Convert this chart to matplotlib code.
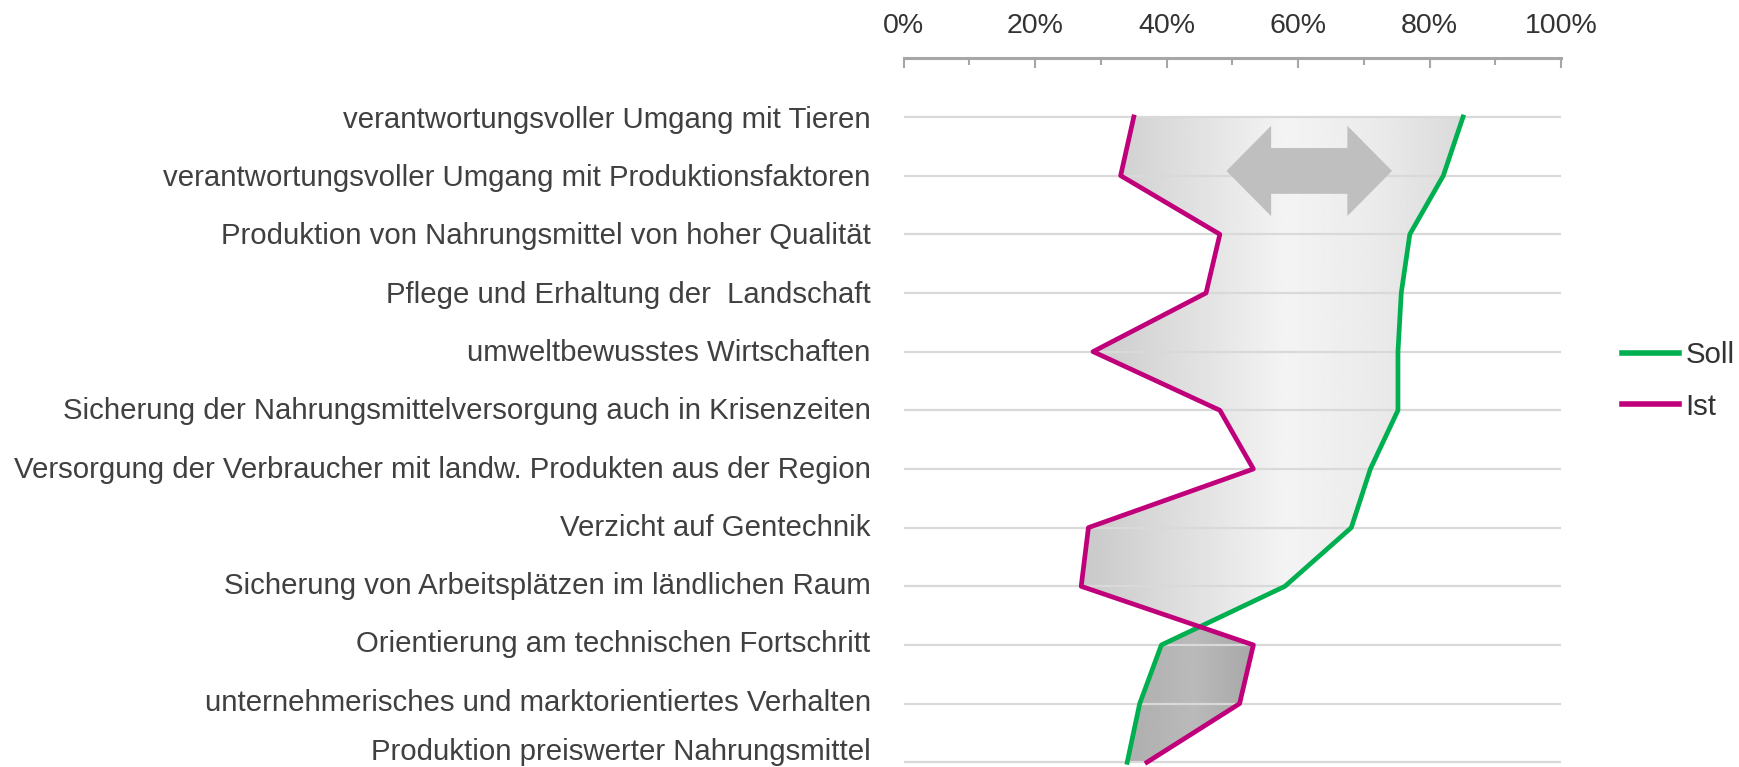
import numpy as np
import matplotlib
matplotlib.use('Agg')
import matplotlib.pyplot as plt
import matplotlib.transforms as mtransforms
from matplotlib.patches import Polygon
from matplotlib.path import Path
from matplotlib.lines import Line2D

plt.rcParams['font.family'] = ['Liberation Sans', 'DejaVu Sans']

################ Data ################

categories = [
    "verantwortungsvoller Umgang mit Tieren",
    "verantwortungsvoller Umgang mit Produktionsfaktoren",
    "Produktion von Nahrungsmittel von hoher Qualität",
    "Pflege und Erhaltung der  Landschaft",
    "umweltbewusstes Wirtschaften",
    "Sicherung der Nahrungsmittelversorgung auch in Krisenzeiten",
    "Versorgung der Verbraucher mit landw. Produkten aus der Region",
    "Verzicht auf Gentechnik",
    "Sicherung von Arbeitsplätzen im ländlichen Raum",
    "Orientierung am technischen Fortschritt",
    "unternehmerisches und marktorientiertes Verhalten",
    "Produktion preiswerter Nahrungsmittel",
]
soll = [85.1, 82.1, 77.0, 75.7, 75.2, 75.2, 71.0, 68.1, 58.0, 39.2, 35.9, 34.0]
ist = [35.0, 33.0, 48.1, 46.0, 28.8, 48.1, 53.2, 28.1, 27.0, 53.2, 51.1, 37.0]
series_names = ["Soll", "Ist"]
x_ticks = [0, 20, 40, 60, 80, 100]
x_tick_labels = ["0%", "20%", "40%", "60%", "80%", "100%"]

GREEN = '#00b050'
MAGENTA = '#c0007a'
FS_TICK = 20.5
FS_CAT = 21.2


def gradient_fill(ax, y, x1, x2, where, stops_x, stops_v):
    '''
    fills the area between two curves with a horizontal grey gradient
    '''
    coll = ax.fill_betweenx(y, x1, x2, where=where, interpolate=True,
                            facecolor='none', edgecolor='none')
    path = Path.make_compound_path(*coll.get_paths())
    xs = np.linspace(stops_x[0], stops_x[-1], 500)
    v = np.interp(xs, stops_x, stops_v)
    img = np.tile(v, (2, 1))
    im = ax.imshow(img, cmap='gray', vmin=0, vmax=1, aspect='auto',
                   extent=[xs[0], xs[-1], y.max() + 0.5, y.min() - 0.5],
                   interpolation='bilinear', zorder=1)
    im.set_clip_path(path, ax.transData)


################ Figure ################

fig = plt.figure(figsize=(17.4, 7.67), dpi=100)
ax = fig.add_axes([0.5194, 0.0, 0.3777, 0.924])

y = np.arange(len(categories))
s = np.array(soll)
i = np.array(ist)

# soll above ist -> light band, ist above soll -> dark band
gradient_fill(ax, y, i, s, s >= i, [26, 40, 58, 72, 86], [0.78, 0.86, 0.955, 0.92, 0.85])
gradient_fill(ax, y, s, i, s <= i, [33, 44, 54], [0.68, 0.73, 0.65])

ax.hlines(y, 0, 100, color='#d9d9d9', lw=1.6, zorder=2)

# double arrow
x0, x1, yc = 49.1, 74.3, 0.92
hl, hh, sh = 6.8, 0.77, 0.39
arrow = Polygon([(x0, yc), (x0 + hl, yc - hh), (x0 + hl, yc - sh), (x1 - hl, yc - sh),
                 (x1 - hl, yc - hh), (x1, yc), (x1 - hl, yc + hh), (x1 - hl, yc + sh),
                 (x0 + hl, yc + sh), (x0 + hl, yc + hh)],
                closed=True, facecolor='#bfbfbf', edgecolor='none', zorder=3)
ax.add_patch(arrow)

ax.plot(soll, y, color=GREEN, lw=3.4, zorder=4)
ax.plot(ist, y, color=MAGENTA, lw=3.4, zorder=4)

ax.set_xlim(0, 100)
ax.set_ylim(11.08, -1.0)

ax.xaxis.tick_top()
ax.set_xticks(x_ticks)
ax.set_xticklabels(x_tick_labels)
ax.set_xticks(np.arange(10, 100, 20), minor=True)
ax.tick_params(axis='x', which='major', direction='in', length=7.2, width=1.5,
               color='#a6a6a6', pad=14, labelsize=FS_TICK, labelcolor='#333333')
ax.tick_params(axis='x', which='minor', direction='in', length=4.7, width=1.5,
               color='#a6a6a6')

ax.set_yticks(y)
ax.set_yticklabels(categories)
ax.tick_params(axis='y', length=0, pad=23.8, labelsize=FS_CAT, labelcolor='#404040')

# the labels drift slightly upwards towards the bottom, the last one is lifted to fit
for k, lab in enumerate(ax.get_yticklabels()):
    up = k * 0.4 + (9 if k == len(categories) - 1 else 0)
    lab.set_transform(lab.get_transform() +
                      mtransforms.ScaledTranslation(0, up / 100, fig.dpi_scale_trans))

for side in ['left', 'right', 'bottom']:
    ax.spines[side].set_visible(False)
ax.spines['top'].set_color('#a6a6a6')
ax.spines['top'].set_linewidth(2.2)

handles = [Line2D([], [], color=GREEN, lw=4), Line2D([], [], color=MAGENTA, lw=4)]
fig.legend(handles, series_names, loc='center left', bbox_to_anchor=(1622 / 1740, 1 - 381 / 767),
           frameon=False, fontsize=FS_CAT, handlelength=1.95, handletextpad=0.2,
           labelspacing=0.8, borderpad=0, borderaxespad=0, labelcolor='#333333')

fig.savefig('out.png', dpi=100)
